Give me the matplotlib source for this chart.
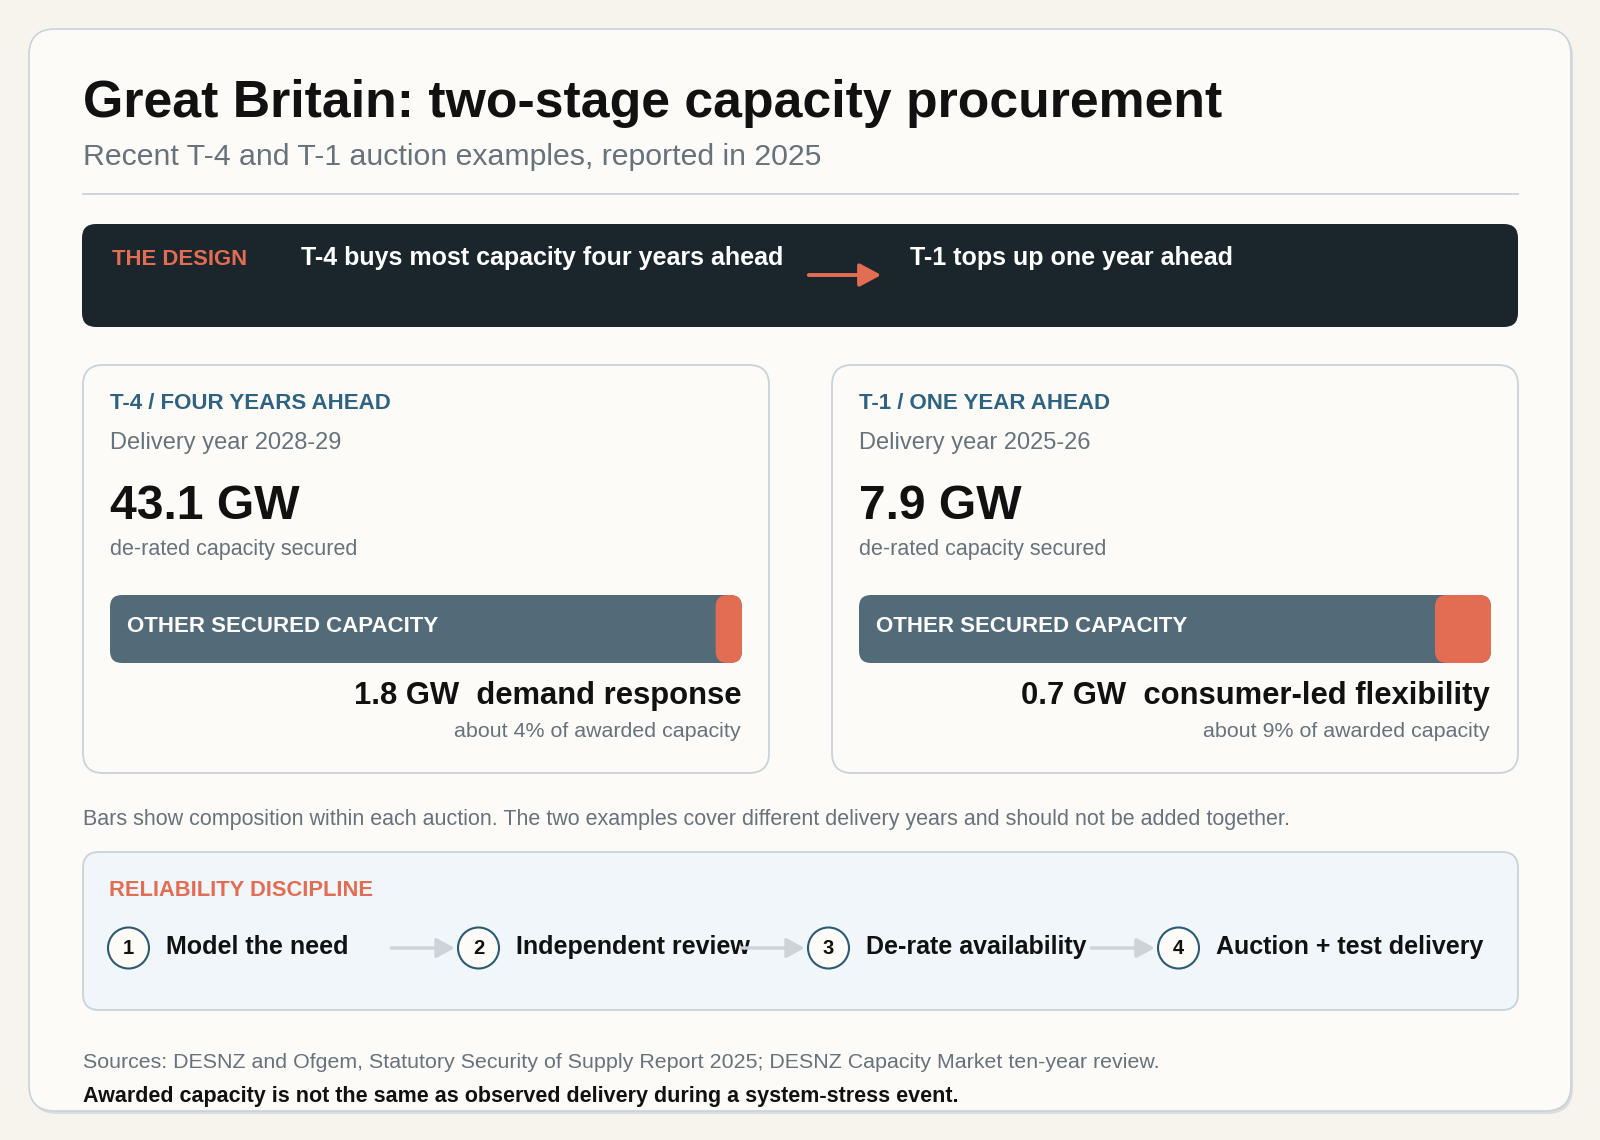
import matplotlib
matplotlib.use("Agg")
import matplotlib.pyplot as plt
from matplotlib.patches import FancyBboxPatch, Circle, FancyArrowPatch

plt.rcParams['font.family'] = ['Liberation Sans', 'DejaVu Sans']

# Data
auction_names = ["T-4 / FOUR YEARS AHEAD", "T-1 / ONE YEAR AHEAD"]
delivery_years = ["2028-29", "2025-26"]
total_gw = [43.1, 7.9]
flex_gw = [1.8, 0.7]
flex_labels = ["demand response", "consumer-led flexibility"]
flex_share_pct = [4, 9]
steps = ["Model the need", "Independent review", "De-rate availability", "Auction + test delivery"]

# Colours
page_bg = "#f7f4ee"
card_bg = "#fcfbf8"
border = "#c8d3d9"
dark = "#1b252c"
orange = "#e36d53"
teal = "#2e6382"
grey = "#66727c"
slate = "#536b79"
ink = "#111111"

W, H = 1600, 1140
fig = plt.figure(figsize=(16, 11.4), dpi=100)
fig.patch.set_facecolor(page_bg)
ax = fig.add_axes([0, 0, 1, 1])
ax.set_xlim(0, W)
ax.set_ylim(H, 0)
ax.axis("off")


def rbox(x, y, w, h, r, fc, ec="none", lw=0, z=1):
    p = FancyBboxPatch((x, y), w, h, boxstyle=f"round,pad=0,rounding_size={r}",
                       fc=fc, ec=ec, lw=lw, zorder=z)
    ax.add_patch(p)
    return p


# outer card with a faint shadow
rbox(31, 31, 1542, 1083, 26, "#d9dee0", z=0)
rbox(29, 29, 1542, 1082, 26, card_bg, border, 1.2, z=1)

ax.text(83, 117, "Great Britain: two-stage capacity procurement", fontsize=37.3,
        fontweight="bold", color=ink, va="baseline", zorder=3)
ax.text(83, 165, "Recent T-4 and T-1 auction examples, reported in 2025", fontsize=21.8,
        color=grey, va="baseline", zorder=3)
ax.plot([83, 1518], [194, 194], color=border, lw=1.3, zorder=3)

# design band
rbox(82, 224, 1436, 103, 14, dark, z=2)
ax.text(112, 265, "THE DESIGN", fontsize=15.9, fontweight="bold", color=orange,
        va="baseline", zorder=3)
ax.text(301, 265, "T-4 buys most capacity four years ahead", fontsize=18,
        fontweight="bold", color="white", va="baseline", zorder=3)
ax.add_patch(FancyArrowPatch((806, 275), (884, 275), arrowstyle="-|>,head_length=13,head_width=7",
                             mutation_scale=1, color=orange, lw=2.8, zorder=3))
ax.text(910, 265, "T-1 tops up one year ahead", fontsize=18,
        fontweight="bold", color="white", va="baseline", zorder=3)

# auction cards
card_x = [83, 832]
for i in range(2):
    cx = card_x[i]
    rbox(cx, 365, 686, 408, 20, card_bg, border, 1.3, z=2)
    tx = cx + 27
    ax.text(tx, 409, auction_names[i], fontsize=16, fontweight="bold", color=teal,
            va="baseline", zorder=3)
    ax.text(tx, 449, f"Delivery year {delivery_years[i]}", fontsize=17, color=grey,
            va="baseline", zorder=3)
    ax.text(tx, 519, f"{total_gw[i]} GW", fontsize=34.6, fontweight="bold", color=ink,
            va="baseline", zorder=3)
    ax.text(tx, 555, "de-rated capacity secured", fontsize=15.5, color=grey,
            va="baseline", zorder=3)

    # composition bar in its own axes, scaled to the auction total
    bx, by, bw, bh = tx, 595, 632, 68
    bax = fig.add_axes([bx / W, 1 - (by + bh) / H, bw / W, bh / H])
    bax.set_xlim(0, total_gw[i])
    bax.set_ylim(0, 1)
    bax.axis("off")
    px_x = total_gw[i] / bw
    asp = (1 / bh) / px_x
    other = total_gw[i] - flex_gw[i]
    bax.add_patch(FancyBboxPatch((0, 0), total_gw[i], 1,
                                 boxstyle=f"round,pad=0,rounding_size={12 * px_x}",
                                 mutation_aspect=asp, fc=slate, ec="none"))
    bax.add_patch(FancyBboxPatch((other, 0), flex_gw[i], 1,
                                 boxstyle=f"round,pad=0,rounding_size={12 * px_x}",
                                 mutation_aspect=asp, fc=orange, ec="none"))
    bax.text(17 / bw, (by + bh - 632) / bh, "OTHER SECURED CAPACITY", transform=bax.transAxes,
             fontsize=16, fontweight="bold", color="white", va="baseline")
    ax.text(cx + 658, 704, f"{flex_gw[i]} GW  {flex_labels[i]}", fontsize=22.3,
            fontweight="bold", color=ink, ha="right", va="baseline", zorder=3)
    ax.text(cx + 658, 737, f"about {flex_share_pct[i]}% of awarded capacity", fontsize=15.4,
            color=grey, ha="right", va="baseline", zorder=3)

ax.text(83, 825, "Bars show composition within each auction. The two examples cover different "
        "delivery years and should not be added together.", fontsize=15.5, color=grey,
        va="baseline", zorder=3)

# reliability steps
rbox(83, 852, 1435, 158, 16, "#f0f6f9", border, 1.3, z=2)
ax.text(109, 896, "RELIABILITY DISCIPLINE", fontsize=15.75, fontweight="bold", color=orange,
        va="baseline", zorder=3)
for i, s in enumerate(steps):
    cx = 128.5 + i * 350
    ax.add_patch(Circle((cx, 948), 20.5, fc=card_bg, ec="#2b5a75", lw=1.5, zorder=4))
    ax.text(cx, 949, str(i + 1), fontsize=14.5, fontweight="bold", color=ink,
            ha="center", va="center", zorder=5)
    ax.text(cx + 38, 954, s, fontsize=18, fontweight="bold", color=ink,
            va="baseline", zorder=3)
    if i < len(steps) - 1:
        ax.add_patch(FancyArrowPatch((cx + 260, 948), (cx + 329, 948),
                                     arrowstyle="-|>,head_length=11,head_width=6",
                                     mutation_scale=1, color="#cbd4d8", lw=2.4, zorder=4))

ax.text(83, 1068, "Sources: DESNZ and Ofgem, Statutory Security of Supply Report 2025; "
        "DESNZ Capacity Market ten-year review.", fontsize=15.4, color=grey,
        va="baseline", zorder=3)
ax.text(83, 1102, "Awarded capacity is not the same as observed delivery during a "
        "system-stress event.", fontsize=15.5, fontweight="bold", color=ink,
        va="baseline", zorder=3)

fig.savefig("out.png", dpi=100, facecolor=page_bg)
